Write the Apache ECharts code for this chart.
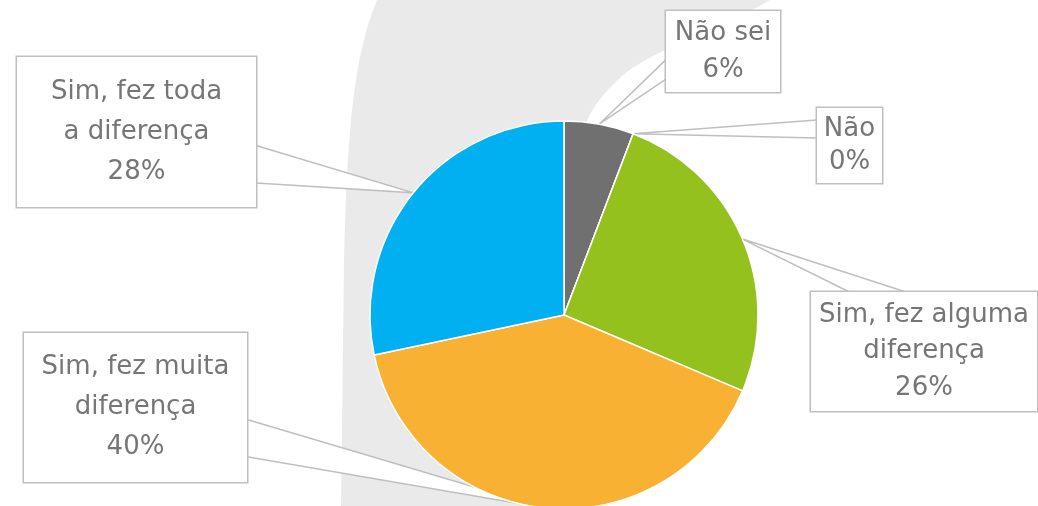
<!DOCTYPE html>
<html>
<head>
<meta charset="utf-8">
<script src="https://cdn.jsdelivr.net/npm/echarts@6/dist/echarts.min.js"></script>
<style>html,body{margin:0;padding:0;background:#fff}#c{width:1038px;height:506px}</style>
</head>
<body>
<div id="c"></div>
<script>
// ---- data ----
var categories = ['Não sei', 'Não', 'Sim, fez alguma\ndiferença', 'Sim, fez muita\ndiferença', 'Sim, fez toda\na diferença'];
var values = [5.8, 0, 25.6, 40.3, 28.3];
var colors = ['#707070', '#A5A5A5', '#95C11F', '#F8B133', '#00B0F0'];

// ---- label box layout (styles/positions, not data) ----
var boxes = [
  {x: 666, y: 11,  w: 114, h: 81,  lh: 37,   dy: 3,   side: 'left',  f: [0.60, 0.84]},
  {x: 817, y: 108, w: 65,  h: 75,  lh: 33,   dy: 1,   side: 'left',  f: [0.16, 0.40]},
  {x: 811, y: 292, w: 226, h: 119, lh: 36.7, dy: 2,   side: 'top',   f: [0.17, 0.42]},
  {x: 24,  y: 333, w: 223, h: 149, lh: 40,   dy: 3.5, side: 'right', f: [0.58, 0.83]},
  {x: 17,  y: 57,  w: 239, h: 150, lh: 40,   dy: 4,   side: 'right', f: [0.59, 0.84]}
];

// background decorative silhouette (bezier segments sampled into a polygon)
function bez(p0, p1, p2, p3, n) {
  var pts = [];
  for (var k = 1; k <= n; k++) {
    var t = k / n, u = 1 - t;
    pts.push([
      u*u*u*p0[0] + 3*u*u*t*p1[0] + 3*u*t*t*p2[0] + t*t*t*p3[0],
      u*u*u*p0[1] + 3*u*u*t*p1[1] + 3*u*t*t*p2[1] + t*t*t*p3[1]
    ]);
  }
  return pts;
}
var bgPts = [[377, 0], [770, 0]];
bgPts = bgPts.concat(bez([770, 0], [720, 30], [655, 48], [622, 76], 16));
bgPts = bgPts.concat(bez([622, 76], [603, 93], [592, 108], [585, 125], 8));
bgPts.push([564, 506], [341, 506], [344, 260]);
bgPts = bgPts.concat(bez([344, 260], [347, 130], [354, 55], [377, 0], 20));

var data = categories.map(function (name, i) {
  var b = boxes[i];
  var lines = name.indexOf('\n') < 0 ? 2 : 3;
  var padV = Math.max(0, (b.h - lines * b.lh) / 2);
  return {
    name: name,
    value: values[i],
    itemStyle: {color: colors[i]},
    label: {
      width: b.w - 8,
      lineHeight: b.lh,
      padding: [padV + b.dy, 4, Math.max(0, padV - b.dy), 4]
    }
  };
});

function edgePoint(b, frac, side) {
  if (side === 'left') return [b.x, b.y + b.h * frac];
  if (side === 'right') return [b.x + b.w, b.y + b.h * frac];
  if (side === 'top') return [b.x + b.w * frac, b.y];
  return [b.x + b.w * frac, b.y + b.h];
}

var calloutPolys = [];

var chart = echarts.init(document.getElementById('c'), null, {renderer: 'canvas'});
var bgGraphic = {
  id: 'bg',
  type: 'polygon',
  z: -10,
  silent: true,
  shape: {points: bgPts},
  style: {fill: '#EAEAEA'}
};
chart.setOption({
  animation: false,
  backgroundColor: '#ffffff',
  graphic: [bgGraphic],
  series: [{
    type: 'pie',
    center: [564, 315],
    radius: 194,
    startAngle: 90,
    clockwise: true,
    avoidLabelOverlap: false,
    itemStyle: {borderColor: '#ffffff', borderWidth: 1.5},
    label: {
      show: true,
      position: 'outside',
      fontFamily: 'DejaVu Sans',
      fontSize: 26,
      color: '#767676',
      align: 'center',
      backgroundColor: '#ffffff',
      borderColor: '#BFBFBF',
      borderWidth: 1.5,
      formatter: function (p) {
        return p.name + '\n' + Math.round(p.percent) + '%';
      }
    },
    labelLine: {
      show: true,
      smooth: false,
      lineStyle: {color: '#BFBFBF', width: 1.5}
    },
    labelLayout: function (p) {
      var b = boxes[p.dataIndex];
      var res = {
        x: b.x + b.w / 2,
        y: b.y + b.h / 2,
        align: 'center',
        verticalAlign: 'middle'
      };
      if (p.labelLinePoints && p.labelLinePoints[0]) {
        var P = p.labelLinePoints[0];
        var pts = [edgePoint(b, b.f[0], b.side), [P[0], P[1]], edgePoint(b, b.f[1], b.side)];
        res.labelLinePoints = pts;
        calloutPolys[p.dataIndex] = pts;
      }
      return res;
    },
    data: data
  }]
});

// white fill inside each callout pointer (drawn under the pie, over the background)
var fills = [];
calloutPolys.forEach(function (pts, i) {
  if (!pts) return;
  fills.push({
    id: 'fill' + i,
    type: 'polygon',
    z: -5,
    silent: true,
    shape: {points: pts},
    style: {fill: '#ffffff'}
  });
});
chart.setOption({graphic: [bgGraphic].concat(fills)});
</script>
</body>
</html>
